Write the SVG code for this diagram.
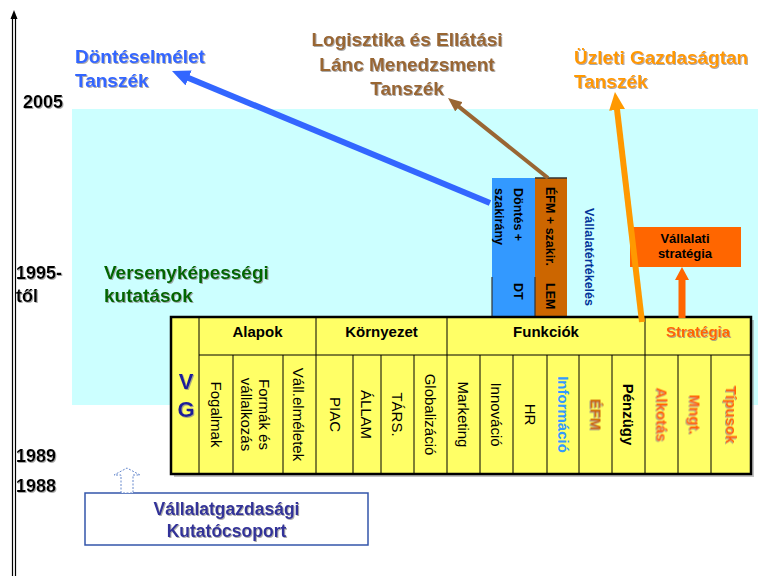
<svg xmlns="http://www.w3.org/2000/svg" width="758" height="576" viewBox="0 0 758 576">
<style>
text{font-family:"Liberation Sans",Arial,sans-serif}
.b{font-weight:bold}
.yr{font-size:18px;font-weight:bold;fill:#000}
.ttl{font-size:19px;font-weight:bold}
.hd{font-size:15px;font-weight:bold;fill:#000;text-anchor:middle}
.cell{font-size:15px;fill:#000;text-anchor:middle}
.cb{font-weight:bold}
.blue{fill:#3399ff}
.efm{fill:#cc6600}
.org{fill:#ff6600}
.ln{stroke:#000;stroke-width:1}
.vt{font-size:12.5px;font-weight:bold;fill:#000}
.sh{filter:url(#ds)}
</style>
<defs>
<filter id="ds" x="-10%" y="-10%" width="130%" height="140%">
<feDropShadow dx="1" dy="1" stdDeviation="0.4" flood-color="#888" flood-opacity="0.7"/>
</filter>
<marker id="ahBlue" markerUnits="userSpaceOnUse" markerWidth="18" markerHeight="16" viewBox="0 0 18 16" refX="4" refY="8" orient="auto"><path d="M0,0 L18,8 L0,16 z" fill="#3366ff"/></marker>
<marker id="ahBrown" markerUnits="userSpaceOnUse" markerWidth="14" markerHeight="12" viewBox="0 0 14 12" refX="3" refY="6" orient="auto"><path d="M0,0 L14,6 L0,12 z" fill="#996633"/></marker>
<marker id="ahOrange" markerUnits="userSpaceOnUse" markerWidth="18" markerHeight="16" viewBox="0 0 18 16" refX="4" refY="8" orient="auto"><path d="M0,0 L18,8 L0,16 z" fill="#ff9900"/></marker>
</defs>

<rect id="bg" x="0" y="0" width="758" height="576" fill="#fff"/>
<rect id="band" x="72" y="109" width="686" height="296" fill="#ccffff"/>

<g id="axis">
<line x1="12.5" y1="16" x2="12.5" y2="576" stroke="#000" stroke-width="1.2"/>
<line x1="15.5" y1="16" x2="15.5" y2="576" stroke="#000" stroke-width="1.2"/>
<polygon points="14,10 10.5,19 17.5,19" fill="#000"/>
</g>

<g id="years">
<text class="yr sh" x="23" y="108">2005</text>
<text class="yr sh" x="16" y="279">1995-</text>
<text class="yr sh" x="16" y="302">től</text>
<text class="yr sh" x="16" y="462">1989</text>
<text class="yr sh" x="16" y="492">1988</text>
</g>

<g id="dontes-tanszek">
<text class="ttl sh" x="75" y="63" fill="#3366ff">Döntéselmélet</text>
<text class="ttl sh" x="75" y="87" fill="#3366ff">Tanszék</text>
</g>
<g id="logisztika-tanszek">
<text class="ttl sh" x="407" y="46" fill="#996633" text-anchor="middle">Logisztika és Ellátási</text>
<text class="ttl sh" x="407" y="71" fill="#996633" text-anchor="middle">Lánc Menedzsment</text>
<text class="ttl sh" x="407" y="95" fill="#996633" text-anchor="middle">Tanszék</text>
</g>
<g id="uzleti-tanszek">
<text class="ttl sh" x="574" y="64" fill="#ff9900">Üzleti Gazdaságtan</text>
<text class="ttl sh" x="574" y="88" fill="#ff9900">Tanszék</text>
</g>
<g id="versenykepesseg">
<text class="ttl sh" x="104" y="279" fill="#006600">Versenyképességi</text>
<text class="ttl sh" x="104" y="302" fill="#006600">kutatások</text>
</g>

<g id="dt-box">
<rect x="492" y="178" width="43" height="140" fill="#3399ff"/>
<line x1="492" y1="277" x2="492" y2="318" stroke="#333" stroke-width="1.2"/>
<text class="vt" transform="translate(518,188) rotate(90)" y="4.5">Döntés +</text>
<text class="vt" transform="translate(499,188) rotate(90)" y="4.5">szakirány</text>
<text class="vt" transform="translate(518,283) rotate(90)" y="4.5">DT</text>
</g>
<g id="lem-box">
<rect x="535" y="178" width="32" height="140" fill="#cc6600"/>
<line x1="535" y1="178" x2="567" y2="178" stroke="#333" stroke-width="1.5"/>
<line x1="535" y1="277" x2="535" y2="318" stroke="#333" stroke-width="1.2"/>
<text class="vt" transform="translate(550,187) rotate(90)" y="4.5">ÉFM + szakir.</text>
<text class="vt" transform="translate(550,283) rotate(90)" y="4.5">LEM</text>
</g>
<g id="vallalatertekeles">
<text transform="translate(589,257) rotate(90)" y="4.5" text-anchor="middle" font-size="12.5" font-weight="bold" fill="#003399">Vállalatértékelés</text>
</g>

<g id="vallalati-strategia">
<rect x="630" y="227" width="111" height="40" fill="#ff6600"/>
<text class="b" x="685" y="243" font-size="13" text-anchor="middle" fill="#000">Vállalati</text>
<text class="b" x="685" y="258" font-size="13" text-anchor="middle" fill="#000">stratégia</text>
</g>

<g id="table">
<rect x="174" y="320" width="580" height="157" fill="#888" opacity="0.5"/>
<rect x="171" y="317" width="580" height="157" fill="#ffff66"/>
<g class="ln">
<line x1="199" y1="317" x2="199" y2="474"/>
<line x1="199" y1="355" x2="751" y2="355"/>
<line x1="316" y1="317" x2="316" y2="474"/>
<line x1="447" y1="317" x2="447" y2="474"/>
<line x1="645" y1="317" x2="645" y2="474"/>
<line x1="233" y1="355" x2="233" y2="474"/>
<line x1="283" y1="355" x2="283" y2="474"/>
<line x1="353" y1="355" x2="353" y2="474"/>
<line x1="381" y1="355" x2="381" y2="474"/>
<line x1="414" y1="355" x2="414" y2="474"/>
<line x1="480" y1="355" x2="480" y2="474"/>
<line x1="513" y1="355" x2="513" y2="474"/>
<line x1="547" y1="355" x2="547" y2="474"/>
<line x1="579" y1="355" x2="579" y2="474"/>
<line x1="612" y1="355" x2="612" y2="474"/>
<line x1="678" y1="355" x2="678" y2="474"/>
<line x1="711" y1="355" x2="711" y2="474"/>
</g>
<rect x="171" y="317" width="580" height="157" fill="none" stroke="#000" stroke-width="2.5"/>
<text class="b sh" x="186" y="389" font-size="22" text-anchor="middle" fill="#1f1f99">V</text>
<text class="b sh" x="186" y="417" font-size="22" text-anchor="middle" fill="#1f1f99">G</text>
<text class="hd" x="257.5" y="337">Alapok</text>
<text class="hd" x="381.5" y="337">Környezet</text>
<text class="hd" x="546" y="337">Funkciók</text>
<text class="hd org sh" x="698" y="337">Stratégia</text>
<text class="cell" transform="translate(216,414.5) rotate(90)" y="5.4">Fogalmak</text>
<text class="cell" transform="translate(258,414.5) rotate(90)" y="-1">Formák és</text>
<text class="cell" transform="translate(258,414.5) rotate(90)" y="17.5">vállalkozás</text>
<text class="cell" transform="translate(298,414.5) rotate(90)" y="5.4">Váll.elméletek</text>
<text class="cell" transform="translate(335,414.5) rotate(90)" y="5.4">PIAC</text>
<text class="cell" transform="translate(366,414.5) rotate(90)" y="5.4">ÁLLAM</text>
<text class="cell" transform="translate(397.5,414.5) rotate(90)" y="5.4">TÁRS.</text>
<text class="cell" transform="translate(430.5,414.5) rotate(90)" y="5.4">Globalizáció</text>
<text class="cell" transform="translate(463.5,414.5) rotate(90)" y="5.4">Marketing</text>
<text class="cell" transform="translate(496.5,414.5) rotate(90)" y="5.4">Innováció</text>
<text class="cell" transform="translate(530,414.5) rotate(90)" y="5.4">HR</text>
<text class="cell cb blue" transform="translate(563,414.5) rotate(90)" y="5.4">Információ</text>
<text class="cell cb efm sh" transform="translate(595.5,414.5) rotate(90)" y="5.4">ÉFM</text>
<text class="cell cb" transform="translate(628.5,414.5) rotate(90)" y="5.4">Pénzügy</text>
<text class="cell cb org sh" transform="translate(661.5,414.5) rotate(90)" y="5.4">Alkotás</text>
<text class="cell cb org sh" transform="translate(694.5,414.5) rotate(90)" y="5.4">Mngt.</text>
<text class="cell cb org sh" transform="translate(731,414.5) rotate(90)" y="5.4">Típusok</text>
</g>

<g id="kutatocsoport">
<rect x="85" y="493" width="283" height="52" fill="#fff" stroke="#3355aa" stroke-width="1.5"/>
<text class="b sh" x="226.5" y="515" font-size="17.5" text-anchor="middle" fill="#333399">Vállalatgazdasági</text>
<text class="b sh" x="226.5" y="537" font-size="17.5" text-anchor="middle" fill="#333399">Kutatócsoport</text>
</g>

<g id="connectors">
<line x1="490" y1="203" x2="184.9" y2="76.4" stroke="#3366ff" stroke-width="6" marker-end="url(#ahBlue)"/>
<line x1="548" y1="178" x2="456.6" y2="104.9" stroke="#996633" stroke-width="4" marker-end="url(#ahBrown)"/>
<line x1="642" y1="322" x2="616.6" y2="105.9" stroke="#ff9900" stroke-width="6" marker-end="url(#ahOrange)"/>
<polygon points="678.5,318 685.5,318 685.5,280 689,280 682,267 675,280 678.5,280" fill="#ff6600"/>
<polygon points="121,493 121,475 114,475 127,468 140,475 133,475 133,493" fill="#fff" stroke="#6688cc" stroke-width="1" stroke-dasharray="2,1.5"/>
</g>
</svg>
